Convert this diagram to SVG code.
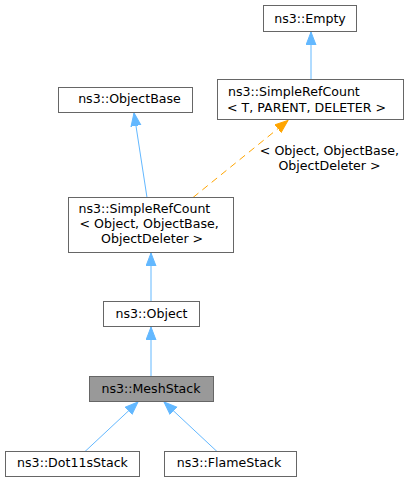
<svg xmlns="http://www.w3.org/2000/svg" width="410" height="481" viewBox="0 0 410 481">
<defs>
<style>
.n rect{fill:#ffffff;stroke:#666666;stroke-width:1}
.n.hl rect{fill:#999999}
text{font-family:"DejaVu Sans","Liberation Sans",sans-serif;font-size:12.6px;fill:#000000}
.m{text-anchor:middle}
.e{fill:none;stroke:#63b8ff;stroke-width:1}
.o{fill:none;stroke:#ffa500;stroke-width:1;stroke-dasharray:7,5}
</style>
<marker id="ab" markerUnits="userSpaceOnUse" markerWidth="14" markerHeight="12" refX="13" refY="5.5" orient="auto"><path d="M0,0.5 L13,5.5 L0,10.5 z" fill="#63b8ff" stroke="#63b8ff"/></marker>
<marker id="ao" markerUnits="userSpaceOnUse" markerWidth="14" markerHeight="12" refX="13" refY="5.5" orient="auto"><path d="M0,0.5 L13,5.5 L0,10.5 z" fill="#ffa500" stroke="#ffa500"/></marker>
</defs>
<rect width="410" height="481" fill="#ffffff"/>
<g id="edges">
<line class="e" x1="311" y1="79.5" x2="311" y2="32" marker-end="url(#ab)"/>
<line class="e" x1="147" y1="197.5" x2="134" y2="113" marker-end="url(#ab)"/>
<line class="o" x1="193" y1="197.5" x2="288" y2="120.5" marker-end="url(#ao)"/>
<text class="m" x="329.5" y="154.5">&lt; Object, ObjectBase,</text>
<text class="m" x="329.5" y="169.5">ObjectDeleter &gt;</text>
<line class="e" x1="151" y1="301.5" x2="151" y2="253" marker-end="url(#ab)"/>
<line class="e" x1="151" y1="376.5" x2="151" y2="327" marker-end="url(#ab)"/>
<line class="e" x1="85" y1="451.5" x2="138" y2="402" marker-end="url(#ab)"/>
<line class="e" x1="217" y1="451.5" x2="164" y2="402" marker-end="url(#ab)"/>
</g>
<g id="node-empty" class="n"><rect x="263.5" y="5.5" width="93" height="26"/><text class="m" x="310" y="22.5">ns3::Empty</text></g>
<g id="node-srctemplate" class="n"><rect x="217.5" y="79.5" width="186" height="40"/><text x="228" y="95.5">ns3::SimpleRefCount</text><text x="227" y="111.5">&lt; T, PARENT, DELETER &gt;</text></g>
<g id="node-objectbase" class="n"><rect x="58.5" y="87.5" width="134" height="25"/><text class="m" x="129.5" y="103">ns3::ObjectBase</text></g>
<g id="node-src" class="n"><rect x="68.5" y="197.5" width="165" height="55"/><text x="78.5" y="212.5">ns3::SimpleRefCount</text><text x="79.5" y="227.5">&lt; Object, ObjectBase,</text><text x="101" y="242.5">ObjectDeleter &gt;</text></g>
<g id="node-object" class="n"><rect x="103.5" y="301.5" width="96" height="25"/><text class="m" x="151.5" y="317.5">ns3::Object</text></g>
<g id="node-meshstack" class="n hl"><rect x="89.5" y="376.5" width="124" height="25"/><text class="m" x="151" y="392.5">ns3::MeshStack</text></g>
<g id="node-dot11s" class="n"><rect x="5.5" y="451.5" width="134" height="25"/><text class="m" x="72.5" y="467">ns3::Dot11sStack</text></g>
<g id="node-flame" class="n"><rect x="164.5" y="451.5" width="132" height="25"/><text class="m" x="229" y="467">ns3::FlameStack</text></g>
</svg>
